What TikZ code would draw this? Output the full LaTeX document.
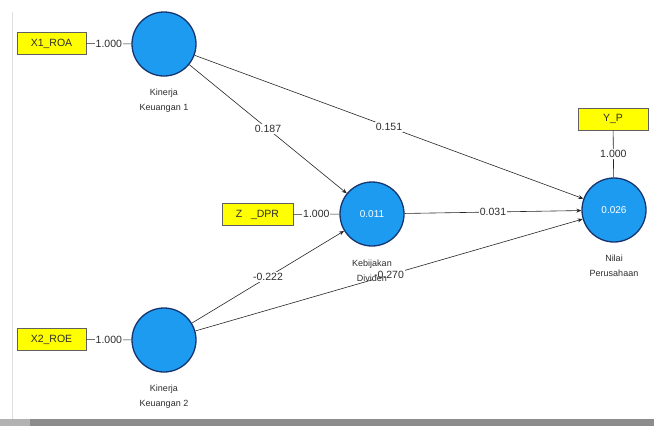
\documentclass[tikz,border=0pt]{standalone}
\usepackage{fontspec}
\setmainfont{Liberation Sans}
\usetikzlibrary{arrows.meta}
\definecolor{lvblue}{RGB}{28,155,240}
\definecolor{lvedge}{RGB}{22,52,110}
\definecolor{indyellow}{RGB}{255,255,0}
\definecolor{txtgray}{RGB}{45,45,45}
\definecolor{barGray}{RGB}{140,140,140}
\begin{document}
\begin{tikzpicture}[x=1pt,y=-1pt,
  lv/.style={circle, draw=lvedge, line width=1.3pt, fill=lvblue, minimum size=64pt,
    inner sep=0pt, text=white, font=\fontsize{10}{11}\selectfont},
  ind/.style={rectangle, draw=gray!75!black, line width=0.6pt, fill=indyellow,
    minimum width=69pt, minimum height=22pt, inner sep=0pt, text=txtgray,
    font=\fontsize{10.5}{11}\selectfont},
  coef/.style={fill=white, inner sep=1pt, text=txtgray, font=\fontsize{10.5}{11}\selectfont},
  pth/.style={draw=black!85, line width=0.6pt, -{Stealth[length=5pt,width=4pt]}},
  indline/.style={draw=black!85, line width=0.6pt},
  caption/.style={align=center, text=txtgray, font=\fontsize{9}{15}\selectfont}
]
\useasboundingbox (0,0) rectangle (654,426);
\fill[white] (0,0) rectangle (654,426);
% screen frame remnants
\draw[gray!25, line width=0.8pt] (12,12) -- (12,419);
\fill[barGray] (0,419) rectangle (654,426);
\fill[gray!60] (0,419) rectangle (30,426);

% latent variables
\node[lv] (k1) at (164,44) {};
\node[lv] (kd) at (372,214) {0.011};
\node[lv] (np) at (614,210) {0.026};
\node[lv] (k2) at (164,340) {};

% indicators
\node[ind] (x1) at (51.5,43.5) {X1\_ROA};
\node[ind] (x2) at (51.5,339.5) {X2\_ROE};
\node[ind, minimum width=71pt] (z) at (257.5,214.5) {Z\ \ \ \_DPR};
\node[ind, minimum width=70pt] (y) at (613,119) {Y\_P};

% outer loadings
\draw[indline] (x1) -- node[coef] {1.000} (k1);
\draw[indline] (x2) -- node[coef] {1.000} (k2);
\draw[indline] (z) -- node[coef] {1.000} (kd);
\draw[indline] (y) -- node[coef] {1.000} (np);

% path coefficients
\draw[pth] (k1) -- node[coef] {0.187} (kd);
\draw[pth] (k1) -- node[coef] {0.151} (np);
\draw[pth] (k2) -- node[coef] {-0.222} (kd);
\draw[pth] (k2) -- node[coef] {-0.270} (np);
\draw[pth] (kd) -- node[coef] {0.031} (np);

% captions
\node[caption] (k1c) at (164,100.5) {Kinerja\\Keuangan 1};
\node[caption] (kdc) at (372,270.5) {Kebijakan\\Dividen};
\node[caption] (npc) at (614,265.5) {Nilai\\Perusahaan};
\node[caption] (k2c) at (164,396.5) {Kinerja\\Keuangan 2};
\end{tikzpicture}
\end{document}
